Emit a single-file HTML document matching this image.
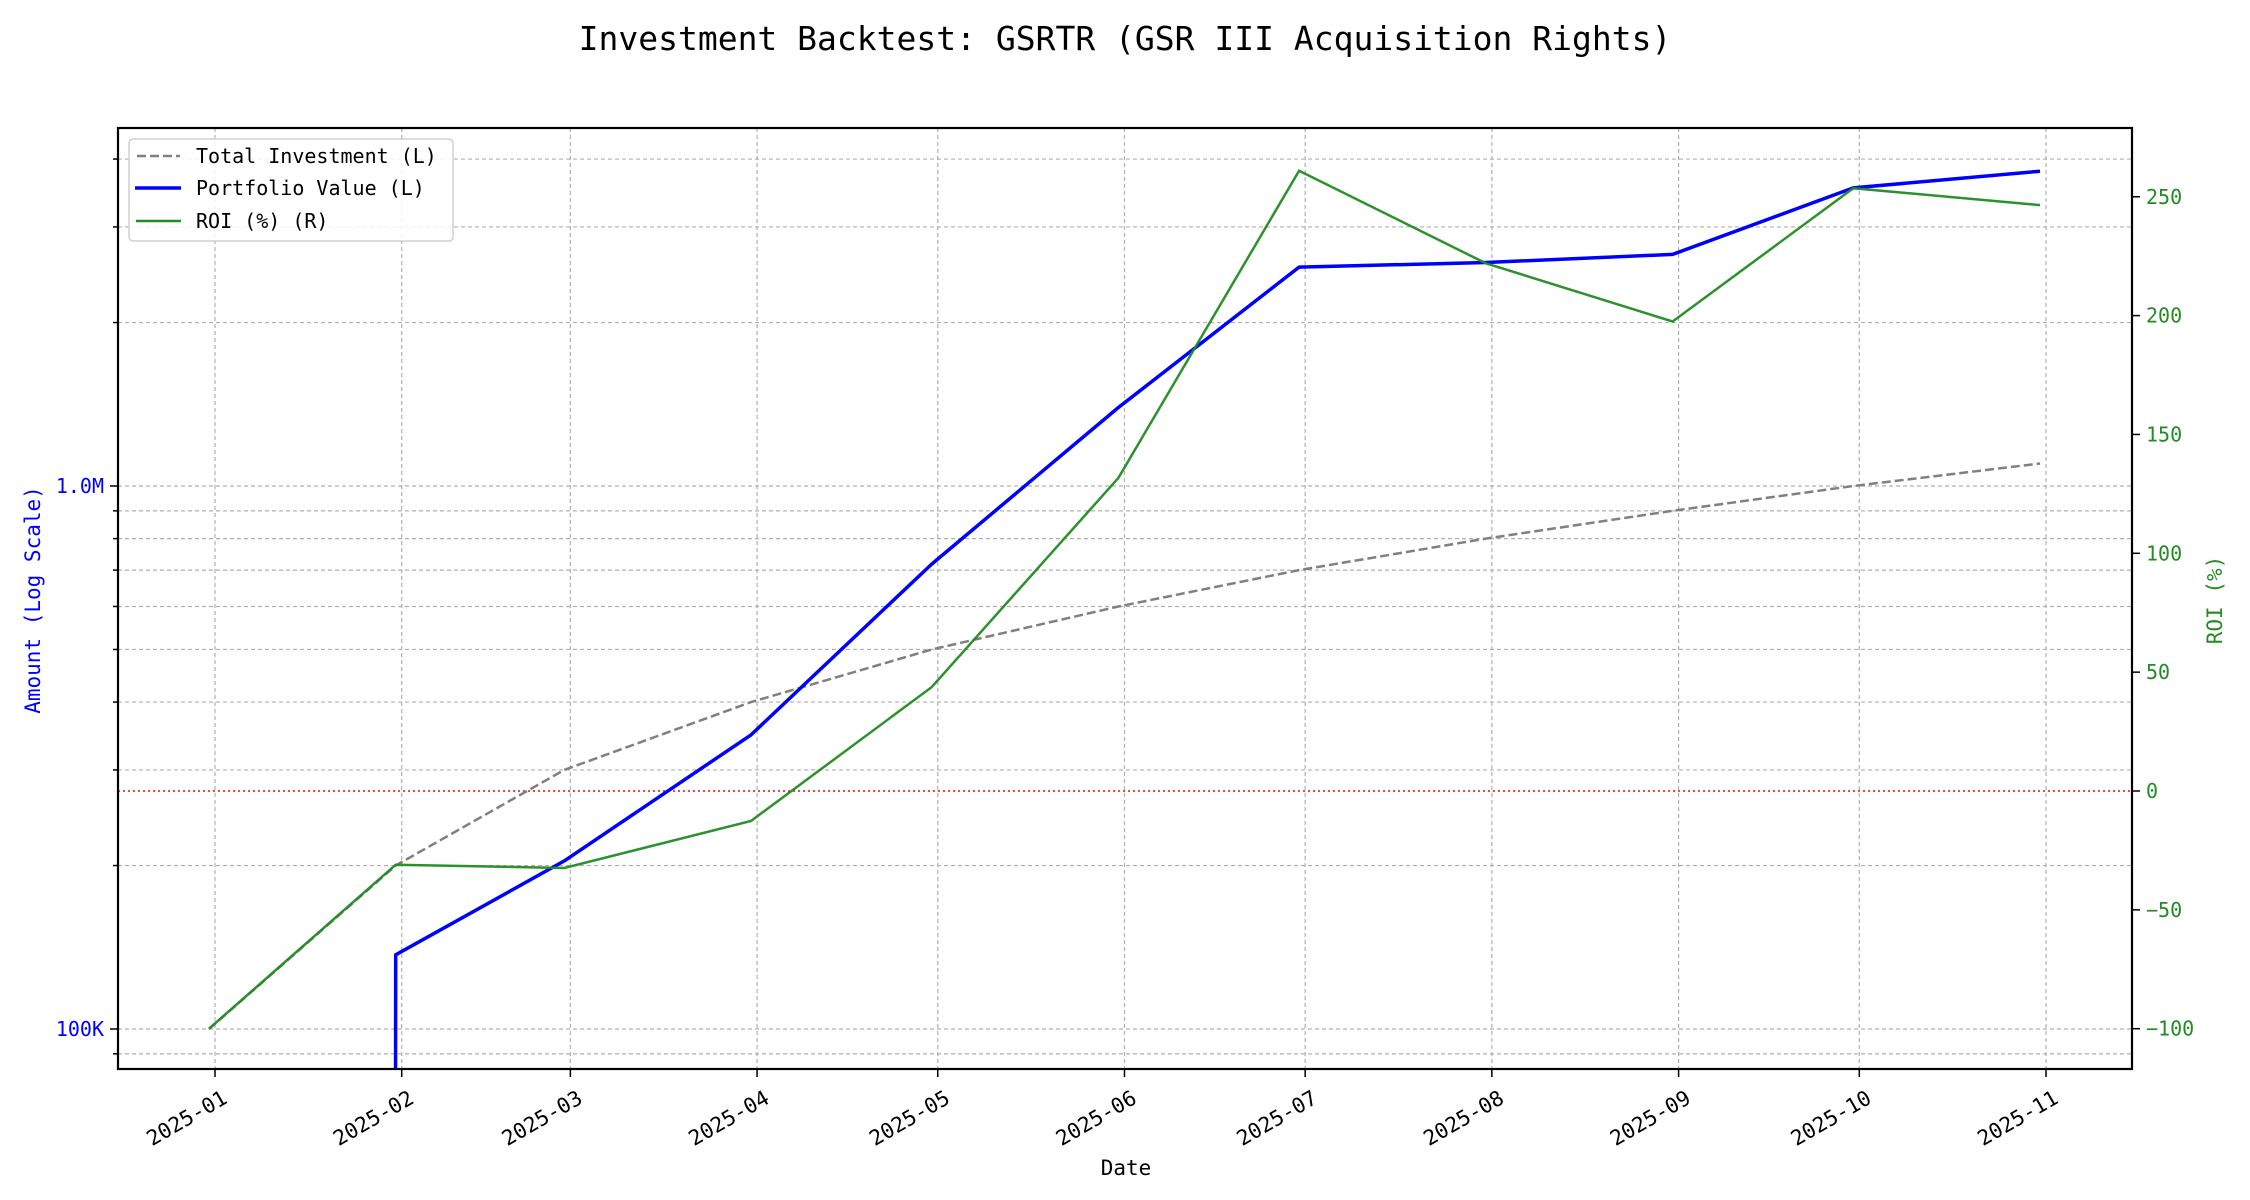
<!DOCTYPE html>
<html><head><meta charset="utf-8"><style>
html,body{margin:0;padding:0;background:#fff;overflow:hidden;width:2250px;height:1200px;}
svg{display:block;font-family:"DejaVu Sans Mono","Liberation Mono",monospace;}
</style></head><body>
<svg id="chart" width="2250" height="1200" viewBox="0 0 2250 1200" xmlns="http://www.w3.org/2000/svg">
<text x="1125" y="50" text-anchor="middle" font-size="33" fill="#000">Investment Backtest: GSRTR (GSR III Acquisition Rights)</text>
<g id="grid"></g>
<g id="series"></g>
<rect x="118" y="128" width="2014" height="941" fill="none" stroke="#000" stroke-width="2.2"/>
<g id="axes"></g>
<text x="0" y="0" transform="translate(40,600) rotate(-90)" text-anchor="middle" font-size="21" fill="#0000ff">Amount (Log Scale)</text>
<text x="0" y="0" transform="translate(2222,600) rotate(-90)" text-anchor="middle" font-size="21" fill="#228B22">ROI (%)</text>
<text x="1126" y="1175" text-anchor="middle" font-size="21" fill="#000">Date</text>
<g>
<rect x="129" y="139" width="324" height="102" rx="4" fill="#fff" fill-opacity="0.85" stroke="#d0d0d0" stroke-width="1.5"/>
<line x1="137" y1="156" x2="180" y2="156" stroke="#808080" stroke-width="2.5" stroke-dasharray="9,4"/>
<text x="196" y="163" font-size="20" fill="#000">Total Investment (L)</text>
<line x1="135" y1="188" x2="181" y2="188" stroke="#0000ff" stroke-width="3.5"/>
<text x="196" y="195" font-size="20" fill="#000">Portfolio Value (L)</text>
<line x1="136" y1="221" x2="181" y2="221" stroke="#228B22" stroke-width="2.5"/>
<text x="196" y="228" font-size="20" fill="#000">ROI (%) (R)</text>
</g>
</svg>
<script>
const dates = ["2024-12-31","2025-01-31","2025-02-28","2025-03-31","2025-04-30","2025-05-31","2025-06-30","2025-07-31","2025-08-31","2025-09-30","2025-10-31"];
const investment = [100000,200000,300000,400000,500000,600000,700000,800000,900000,1000000,1100000];
const portfolio = [0,137000,204000,348000,718000,1395000,2530000,2580000,2670000,3540000,3800000];
const roi = [-100,-31,-32.4,-12.6,43.7,131.7,260.9,222,197.5,253.6,246.5];
const xTickLabels = ["2025-01","2025-02","2025-03","2025-04","2025-05","2025-06","2025-07","2025-08","2025-09","2025-10","2025-11"];
const leftTicks = [100000,1000000];
const leftTickLabels = ["100K","1.0M"];
const leftMinor = [90000,200000,300000,400000,500000,600000,700000,800000,900000,2000000,3000000,4000000];
const rightTicks = [-100,-50,0,50,100,150,200,250];

const NS="http://www.w3.org/2000/svg";
const L=118,R=2132,T=128,B=1069;
const day0=Date.parse("2025-01-01");
function xS(s){return 215+(Date.parse(s)-day0)/86400000*6.023;}
function yL(v){return 1029-(Math.log10(Math.max(v,1e-300))-5)*543;}
function yR(v){return 791-v*2.377;}
function mk(tag,attrs,parent){const e=document.createElementNS(NS,tag);for(const k in attrs)e.setAttribute(k,attrs[k]);parent.appendChild(e);return e;}
const grid=document.getElementById('grid'),axes=document.getElementById('axes'),ser=document.getElementById('series');

xTickLabels.forEach((t)=>{
  const x=xS(t+"-01");
  const g=mk('line',{x1:x,x2:x,y1:T,y2:B,stroke:'#b0b0b0','stroke-width':1.2,'stroke-dasharray':'4,3'},grid);
  
  
  const tk=mk('line',{x1:x,x2:x,y1:B,y2:B+8,stroke:'#000','stroke-width':1.5},axes);
  
  
  const tx=mk('text',{x:0,y:0,transform:`translate(${x+6},${B+20}) rotate(-30)`,'text-anchor':'end','font-size':21,fill:'#000','dominant-baseline':'hanging'},axes);
  tx.textContent=t;
  
  
});
leftMinor.concat(leftTicks).forEach(v=>{
  const y=yL(v);
  const g=mk('line',{x1:L,x2:R,y1:y,y2:y,stroke:'#b0b0b0','stroke-width':1.2,'stroke-dasharray':'4,3'},grid);
  
  
  const tk=mk('line',{x1:L-(leftTicks.includes(v)?8:5),x2:L,y1:y,y2:y,stroke:'#000','stroke-width':1.5},axes);
  
  
});
leftTicks.forEach((v,i)=>{
  const tx=mk('text',{x:L-14,y:yL(v)+7,'text-anchor':'end','font-size':20,fill:'#0000ff'},axes);
  tx.textContent=leftTickLabels[i];
  
  
});
rightTicks.forEach(v=>{
  const y=yR(v);
  const tk=mk('line',{x1:R,x2:R+8,y1:y,y2:y,stroke:'#000','stroke-width':1.5},axes);
  
  
  const tx=mk('text',{x:R+14,y:y+7,'font-size':20,fill:'#228B22'},axes);
  tx.textContent=v<0?'\u2212'+Math.abs(v):String(v);
  
  
});
const clip=mk('clipPath',{id:'pc'},ser);
mk('rect',{x:L,y:T,width:R-L,height:B-T},clip);
ser.setAttribute('clip-path','url(#pc)');
const zl=mk('line',{x1:L,x2:R,y1:yR(0),y2:yR(0),stroke:'#ff0000','stroke-width':1.5,'stroke-dasharray':'2,3'},ser);


function pts(arr,f){return arr.map((v,i)=>xS(dates[i]).toFixed(1)+','+f(v).toFixed(1)).join(' ');}
const inv=mk('polyline',{points:pts(investment,yL),fill:'none',stroke:'#808080','stroke-width':2.5,'stroke-dasharray':'9,4'},ser);


const pv=mk('polyline',{points:pts(portfolio,yL),fill:'none',stroke:'#0000ff','stroke-width':3.5,'stroke-linejoin':'round'},ser);


const rl=mk('polyline',{points:pts(roi,yR),fill:'none',stroke:'#228B22','stroke-width':2.5,'stroke-opacity':0.95},ser);


</script>
</body></html>
